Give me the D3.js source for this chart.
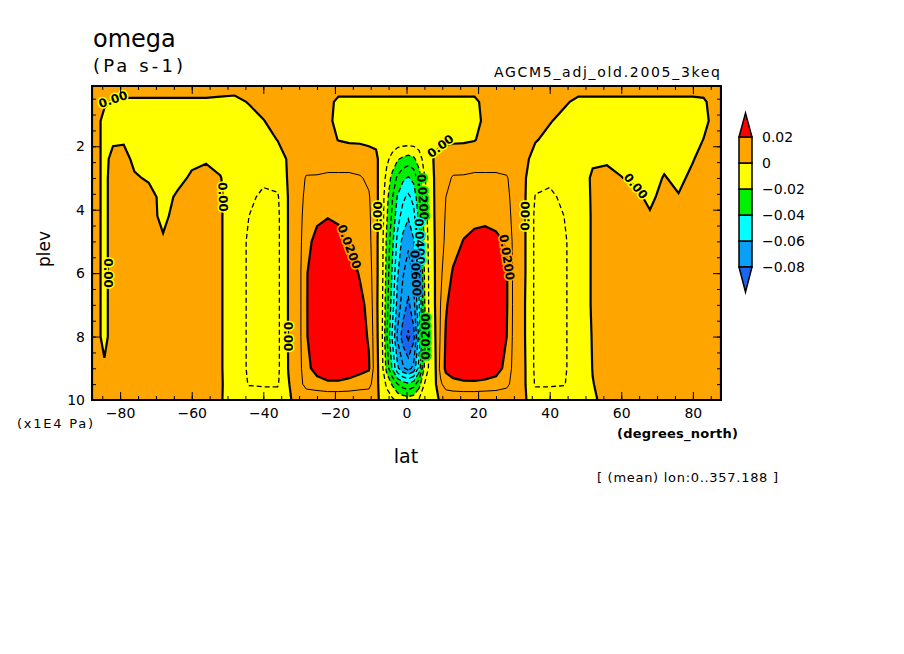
<!DOCTYPE html>
<html>
<head>
<meta charset="utf-8">
<script src="https://cdn.jsdelivr.net/npm/d3@7"></script>
<style>
  body { margin: 0; background: #fff; }
  svg { display: block; }
  text { font-family: "DejaVu Sans", sans-serif; fill: #000; }
</style>
</head>
<body>
<svg id="chart" width="904" height="654"></svg>
<script>
// ---- data ----
// latitude of each grid column (degrees_north)
const lat = [-87.86, -86, -84.4, -82, -79, -76, -72, -68, -64, -60, -56, -52, -48, -44, -40, -36,
  -33, -30.5, -28, -25, -22, -19, -16, -13, -10.5, -8.5, -7, -5.5, -4, -2.5, -1, 0.5, 2, 3.5, 5,
  6.5, 8, 9.5, 11, 13, 16, 19, 22, 25, 28, 30.5, 33, 36, 40, 44, 48, 52, 56, 60, 64, 68, 72, 76,
  80, 83, 85.5, 87.86];
// pressure of each grid row (x1E4 Pa), top to bottom
const plev = [0.1, 0.6, 1.2, 1.8, 2.4, 3, 3.6, 4.2, 5, 6, 7, 8, 9, 9.5, 10];
// omega in 1e-3 Pa s-1, one profile (top -> bottom) per latitude column
const omegaMilli = [
  [2, 2, 2, 2, 2, 2, 2, 2, 2, 2, 2, 2, 2, 1, 1],
  [2, 2, 1, 1, 1, 1, 1, 1, 1, 1, 1, 1, 1, 1, 1],
  [2, 1, -2, -2, -2, -2, -2, -2, -2, -2, -2, -2, 1, 1, 1],
  [3, -0.5, -3, -1, 2, 3, 3, 3, 3, 3, 3, 3, 3, 2, 1],
  [3, -1, -3, -1, 3, 3, 3, 3, 3, 3, 3, 3, 3, 2, 1],
  [3, -1, -3, -3, -2, 1, 3, 3, 3, 3, 3, 3, 3, 2, 1],
  [3, -1, -3, -3, -3, -1, 3, 3, 3, 3, 3, 3, 3, 2, 1],
  [3, -1, -3, -3, -3, -3, -2.5, -2, 1, 3, 3, 3, 3, 2, 1],
  [3, -1, -3, -3, -3, -2, 1, 3, 3, 3, 3, 3, 3, 2, 1],
  [3, -1, -3, -3, -1.5, 1, 3, 3, 3, 3, 3, 3, 3, 2, 1],
  [3, -1, -3, -3, -1, 3, 3, 3, 3, 3, 3, 3, 3, 2, 1],
  [3, -1.5, -3, -3, -2, 0.3, 1, 1, 1, 1, 1, 1, 1, 1, 0.5],
  [3, -2, -3, -4, -4, -4, -5, -6, -6, -6, -6, -6, -6, -5, -3],
  [3, 0.5, -3, -4, -4.5, -6, -8, -10, -11, -11, -11, -11, -11, -10.5, -5],
  [3, 2, -0.2, -3, -5, -8, -12, -13, -14, -14, -14, -14, -13.5, -11, -5],
  [3, 3, 2, 0.2, -4, -7, -11, -12, -12, -12, -12, -12, -12, -11, -5],
  [3, 3, 3, 2, 1, 1, 0.5, 0.5, 0.5, 0.5, 0.5, 0.5, 0.3, -0.5, -0.5],
  [3, 3, 3, 3, 3, 3.5, 4, 4, 4, 4, 4, 4, 4, 4, 1],
  [3, 3, 3, 3, 4, 11, 13, 15, 17, 19, 19, 19, 17, 14, 1],
  [3, 3, 3, 3, 5, 11, 14, 18, 23, 28, 29, 28, 24, 16, 1],
  [3, 2, 1.5, 2, 5, 12, 15, 19.5, 25, 29, 30, 30, 27, 18, 1],
  [3, -1.5, -2, -0.2, 5, 12, 15, 18.5, 23, 28, 30, 30, 27, 18, 1],
  [3, -1.5, -3, -1, 5, 12, 14, 16, 19, 25, 27, 27, 25, 17, 1],
  [3, -1.5, -3, -1, 4, 11, 12, 13, 15, 19, 23, 24, 23, 15, 1],
  [3, -1.5, -3, -1, 2, 8, 11, 12, 13, 15, 17, 19, 21, 14, 1],
  [3, -1.5, -3, -1, 1, 1.5, 2, 2, 2, 2, 2, 2.5, 3, 2, 1],
  [3, -1.5, -3, -3, -2, -3, -4, -4, -5, -5, -6, -6, -5, -3, -1],
  [3, -1.5, -3, -3.5, -8, -13, -17, -19, -22, -24, -26, -29, -24, -12, -5],
  [3, -1.5, -3, -4, -13, -23, -29, -32, -37, -41, -45, -51, -41, -21, -8],
  [3, -1.5, -3, -4, -19, -32, -41, -46, -53, -59, -64, -72, -58, -30, -12],
  [3, -1.5, -3, -4, -22, -38, -48, -54, -63, -69, -75, -85, -68, -35, -14],
  [3, -1.5, -3, -4, -24, -41, -52, -59, -68, -75, -82, -92, -74, -38, -15],
  [3, -1.5, -3, -4, -22, -37, -47, -53, -61, -68, -74, -83, -67, -34, -14],
  [3, -1.5, -3, -4, -15, -25, -32, -37, -42, -47, -51, -57, -46, -24, -9],
  [3, -1.5, -3, -3.5, -6, -11, -14, -15, -18, -20, -21, -24, -19, -10, -4],
  [3, -1.5, -3, -3, -2, -4, -5, -5, -6, -7, -7, -8, -7, -4, -2],
  [3, -1.5, -3, -2, 1, 1, 1, 0.8, 0.5, 0.3, 0.2, -0.5, -1.5, -1.5, -1],
  [3, -1.5, -3, -1, 2, 3, 4, 5, 6, 8, 10, 11, 13, 8, 0.5],
  [3, -1.5, -3, -1, 2.5, 7, 10, 11, 12, 15, 19, 21, 22, 15, 1],
  [3, -1.5, -3, -1, 4, 11, 13, 14, 16, 21, 24, 25, 25, 17, 1],
  [3, -1.5, -3, -1, 5, 11, 14, 16, 20.5, 26, 28, 28, 27, 18, 1],
  [3, -1.5, -3, -0.3, 5, 12, 15, 18, 22, 28, 30, 30, 28, 18, 1],
  [3, 2, 2, 2, 5, 12, 15, 18, 23, 28, 30, 30, 27, 17, 1],
  [3, 3, 3, 3, 5, 12, 14, 17, 22, 26, 27, 26, 24, 16, 1],
  [3, 3, 3, 3, 4, 11, 13, 15, 19, 21, 21, 20, 17, 13, 1],
  [3, 3, 3, 3, 3, 3.5, 4, 4, 4, 4, 4, 4, 4, 3, 1],
  [3, 3, 3, 3, 2, 1, 1, 1, 1, 1, 0.5, 0.5, 1, 1, 1],
  [3, 3, 2, 0.5, -3, -7, -10.5, -12, -12, -12, -12, -12, -12, -11, -5],
  [3, 2, 0.5, -2, -4, -8, -12, -13, -14, -14, -14, -14, -13.5, -11, -5],
  [3, 1, -2, -3, -4, -6, -8, -10, -11, -11, -11, -11, -11, -10.5, -5],
  [3, -1.5, -3, -3, -3.5, -4, -5, -6, -6, -6, -6, -6, -6, -5, -3],
  [3, -1.5, -3, -3, -1, 1, 1, 1, 1, 1, 1, 0.5, 0.2, -0.2, -0.5],
  [3, -1.5, -3, -3, -1, 2, 3, 3, 3, 3, 3, 3, 3, 2, 1],
  [3, -1.5, -3, -3, -2, 0.2, 3, 3, 3, 3, 3, 3, 3, 2, 1],
  [3, -1.5, -3, -3, -3, -1.5, 2, 3, 3, 3, 3, 3, 3, 2, 1],
  [3, -1.5, -3, -3, -3, -3, -2, 1, 3, 3, 3, 3, 3, 2, 1],
  [3, -1.5, -3, -3, -2, 0.5, 3, 3, 3, 3, 3, 3, 3, 2, 1],
  [3, -1.5, -3, -3, -3, -2, 0.5, 3, 3, 3, 3, 3, 3, 2, 1],
  [3, -1.5, -3, -3, -0.5, 2, 3, 3, 3, 3, 3, 3, 3, 2, 1],
  [3, -1, -2, 0.2, 3, 3, 3, 3, 3, 3, 3, 3, 3, 2, 1],
  [3, 2, 1.5, 2, 3, 3, 3, 3, 3, 3, 3, 3, 3, 2, 1],
  [3, 3, 3, 3, 3, 3, 3, 3, 3, 3, 3, 3, 3, 2, 1]
];

// shading levels (Pa s-1) and colours, lowest band first
const fillLevels = [-0.08, -0.06, -0.04, -0.02, 0, 0.02];
const fillColors = ["#1a66f0", "#0aa0f5", "#00ffff", "#00f000", "#ffff00", "#ffa500", "#ff0000"];
// contour lines, every 0.01
const lineLevels = [-0.09, -0.08, -0.07, -0.06, -0.05, -0.04, -0.03, -0.02, -0.01, 0, 0.01, 0.02];
// where the line labels sit (roughly), in data units
const labelHints = [
  { level: 0, lat: -82, plev: 0.55 },
  { level: 0, lat: -84, plev: 5.7 },
  { level: 0, lat: -51, plev: 3.9 },
  { level: 0, lat: -32.8, plev: 8.1 },
  { level: 0, lat: -8.1, plev: 4.0 },
  { level: 0, lat: 10, plev: 2.1 },
  { level: 0, lat: 33.3, plev: 4.0 },
  { level: 0, lat: 65, plev: 3.4 },
  { level: 0.02, lat: -17, plev: 5.2 },
  { level: 0.02, lat: 27, plev: 5.6 },
  { level: -0.02, lat: 5.2, plev: 3.7 },
  { level: -0.04, lat: 4.2, plev: 5.2 },
  { level: -0.06, lat: 3, plev: 6.3 },
  { level: -0.02, lat: 5.2, plev: 7.6 }
];
const latTicks = [-80, -60, -40, -20, 0, 20, 40, 60, 80];
const plevTicks = [2, 4, 6, 8, 10];
const legendLabels = ["0.02", "0", "\u22120.02", "\u22120.04", "\u22120.06", "\u22120.08"];

// ---- layout ----
const plot = { left: 92, right: 721, top: 86, bottom: 400 };
const svg = d3.select("#chart");

const x = d3.scaleLinear().domain([lat[0], lat[lat.length - 1]]).range([plot.left, plot.right]);
const y = d3.scaleLinear().domain([0.1, 10]).range([plot.top, plot.bottom]);

// d3.contours places grid value i at i + 0.5
const latAt = d3.scaleLinear().domain(lat.map((d, i) => i + 0.5)).range(lat).clamp(true);
const plevAt = d3.scaleLinear().domain(plev.map((d, j) => j + 0.5)).range(plev).clamp(true);

const nx = lat.length, ny = plev.length;
const values = new Array(nx * ny);
omegaMilli.forEach((col, i) => col.forEach((v, j) => { values[j * nx + i] = v / 1000; }));

const gridToScreen = d3.geoTransform({
  point(gx, gy) { this.stream.point(x(latAt(gx)), y(plevAt(gy))); }
});
const path = d3.geoPath(gridToScreen);
const contours = d3.contours().size([nx, ny]);

svg.append("clipPath").attr("id", "plotclip")
  .append("rect")
  .attr("x", plot.left).attr("y", plot.top)
  .attr("width", plot.right - plot.left).attr("height", plot.bottom - plot.top);

const g = svg.append("g").attr("clip-path", "url(#plotclip)");

// shading
g.append("rect")
  .attr("x", plot.left).attr("y", plot.top)
  .attr("width", plot.right - plot.left).attr("height", plot.bottom - plot.top)
  .attr("fill", fillColors[0]);

g.selectAll("path.band")
  .data(contours.thresholds(fillLevels)(values))
  .join("path")
  .attr("class", "band")
  .attr("d", path)
  .attr("fill", (d, i) => fillColors[i + 1]);

// contour lines
const lineData = contours.thresholds(lineLevels)(values);
g.selectAll("path.line")
  .data(lineData)
  .join("path")
  .attr("class", "line")
  .attr("d", path)
  .attr("fill", "none")
  .attr("stroke", "#000")
  .attr("stroke-width", d => (d.value === 0 || d.value === 0.02) ? 2.2 : (d.value < 0 ? 1.3 : 1))
  .attr("stroke-dasharray", d => d.value < 0 ? "5,3" : null);

// contour labels
function bandColorBelow(level) {
  const i = d3.bisectLeft(fillLevels, level);
  return fillColors[Math.max(0, i)];
}
const fmtLabel = v => v === 0 ? "0.00" : d3.format(".4f")(Math.abs(v));

labelHints.forEach(h => {
  const c = contours.thresholds([h.level])(values)[0];
  const target = [x(h.lat), y(h.plev)];
  let best = null;
  c.coordinates.forEach(poly => poly.forEach(ring => {
    const pts = ring.map(([gx, gy]) => [x(latAt(gx)), y(plevAt(gy))]);
    pts.forEach((p, k) => {
      if (p[0] < plot.left + 2 || p[0] > plot.right - 2 || p[1] < plot.top + 2 || p[1] > plot.bottom - 2) return;
      const dd = (p[0] - target[0]) ** 2 + (p[1] - target[1]) ** 2;
      if (!best || dd < best.dd) best = { dd, p, pts, k };
    });
  }));
  if (!best) return;
  const n = best.pts.length;
  const a = best.pts[(best.k - 2 + n) % n], b = best.pts[(best.k + 2) % n];
  let ang = Math.atan2(b[1] - a[1], b[0] - a[0]) * 180 / Math.PI;
  if (ang > 90) ang -= 180;
  if (ang <= -90) ang += 180;
  g.append("text")
    .attr("transform", `translate(${best.p[0]},${best.p[1]}) rotate(${ang})`)
    .attr("text-anchor", "middle")
    .attr("dominant-baseline", "central")
    .attr("font-size", 12)
    .attr("font-weight", "bold")
    .attr("stroke", bandColorBelow(h.level))
    .attr("stroke-width", 3)
    .attr("paint-order", "stroke")
    .text(fmtLabel(h.level));
});

// ---- axes (ticks inside the frame) ----
const styleAxis = sel => {
  sel.select(".domain").remove();
  sel.selectAll("line").attr("stroke", "#000");
  sel.attr("font-family", "DejaVu Sans").attr("font-size", 14);
};
const latMinor = d3.range(-85, 90, 5);
const plevMinor = d3.range(0.5, 10, 0.5);

svg.append("g").attr("transform", `translate(0,${plot.bottom})`)
  .call(d3.axisBottom(x).tickValues(latMinor).tickSize(-4).tickFormat("")).call(styleAxis);
svg.append("g").attr("transform", `translate(0,${plot.bottom})`)
  .call(d3.axisBottom(x).tickValues(latTicks).tickSize(-8).tickPadding(8)).call(styleAxis);
svg.append("g").attr("transform", `translate(0,${plot.top})`)
  .call(d3.axisTop(x).tickValues(latMinor).tickSize(-4).tickFormat("")).call(styleAxis);
svg.append("g").attr("transform", `translate(0,${plot.top})`)
  .call(d3.axisTop(x).tickValues(latTicks).tickSize(-8).tickFormat("")).call(styleAxis);

svg.append("g").attr("transform", `translate(${plot.left},0)`)
  .call(d3.axisLeft(y).tickValues(plevMinor).tickSize(-4).tickFormat("")).call(styleAxis);
svg.append("g").attr("transform", `translate(${plot.left},0)`)
  .call(d3.axisLeft(y).tickValues(plevTicks).tickSize(-8).tickPadding(7)).call(styleAxis);
svg.append("g").attr("transform", `translate(${plot.right},0)`)
  .call(d3.axisRight(y).tickValues(plevMinor).tickSize(-4).tickFormat("")).call(styleAxis);
svg.append("g").attr("transform", `translate(${plot.right},0)`)
  .call(d3.axisRight(y).tickValues(plevTicks).tickSize(-8).tickFormat("")).call(styleAxis);

svg.append("rect")
  .attr("x", plot.left).attr("y", plot.top)
  .attr("width", plot.right - plot.left).attr("height", plot.bottom - plot.top)
  .attr("fill", "none").attr("stroke", "#000").attr("stroke-width", 2);

// ---- titles ----
svg.append("text").attr("x", 93).attr("y", 47).attr("font-size", 24).text("omega");
svg.append("text").attr("x", 93).attr("y", 72).attr("font-size", 18)
  .attr("textLength", 90).attr("lengthAdjust", "spacing").text("(Pa s-1)");
svg.append("text").attr("x", 720).attr("y", 77).attr("font-size", 14).attr("text-anchor", "end")
  .attr("textLength", 226).attr("lengthAdjust", "spacing").text("AGCM5_adj_old.2005_3keq");
svg.append("text").attr("transform", "translate(50,249) rotate(-90)").attr("text-anchor", "middle")
  .attr("font-size", 17).text("plev");
svg.append("text").attr("x", 406).attr("y", 463).attr("text-anchor", "middle")
  .attr("font-size", 19).text("lat");
svg.append("text").attr("x", 17).attr("y", 428).attr("font-size", 13)
  .attr("textLength", 76).attr("lengthAdjust", "spacing").text("(x1E4 Pa)");
svg.append("text").attr("x", 617).attr("y", 438).attr("font-size", 13).attr("font-weight", "bold")
  .attr("textLength", 121).attr("lengthAdjust", "spacing").text("(degrees_north)");
svg.append("text").attr("x", 597).attr("y", 482).attr("font-size", 13)
  .attr("textLength", 181).attr("lengthAdjust", "spacing").text("[ (mean) lon:0..357.188 ]");

// ---- colour bar ----
const bar = { x: 739, w: 13, tri: 24 };
const ly = d3.scaleLinear().domain([fillLevels[0], fillLevels[fillLevels.length - 1]]).range([267, 137]);
const legend = svg.append("g");
legend.selectAll("rect")
  .data(d3.range(1, fillLevels.length))
  .join("rect")
  .attr("x", bar.x)
  .attr("y", i => ly(fillLevels[i]))
  .attr("width", bar.w)
  .attr("height", i => ly(fillLevels[i - 1]) - ly(fillLevels[i]))
  .attr("fill", i => fillColors[i])
  .attr("stroke", "#000").attr("stroke-width", 1.5);
const topY = ly(fillLevels[fillLevels.length - 1]), botY = ly(fillLevels[0]);
legend.append("path")
  .attr("d", d3.line()([[bar.x, topY], [bar.x + bar.w / 2, topY - bar.tri], [bar.x + bar.w, topY]]) + "Z")
  .attr("fill", fillColors[fillColors.length - 1]).attr("stroke", "#000").attr("stroke-width", 1.5);
legend.append("path")
  .attr("d", d3.line()([[bar.x, botY], [bar.x + bar.w / 2, botY + bar.tri + 1], [bar.x + bar.w, botY]]) + "Z")
  .attr("fill", fillColors[0]).attr("stroke", "#000").attr("stroke-width", 1.5);
legend.selectAll("text")
  .data(fillLevels.slice().reverse())
  .join("text")
  .attr("x", 762)
  .attr("y", d => ly(d))
  .attr("dominant-baseline", "central")
  .attr("font-size", 14)
  .text((d, i) => legendLabels[i]);
</script>
</body>
</html>
